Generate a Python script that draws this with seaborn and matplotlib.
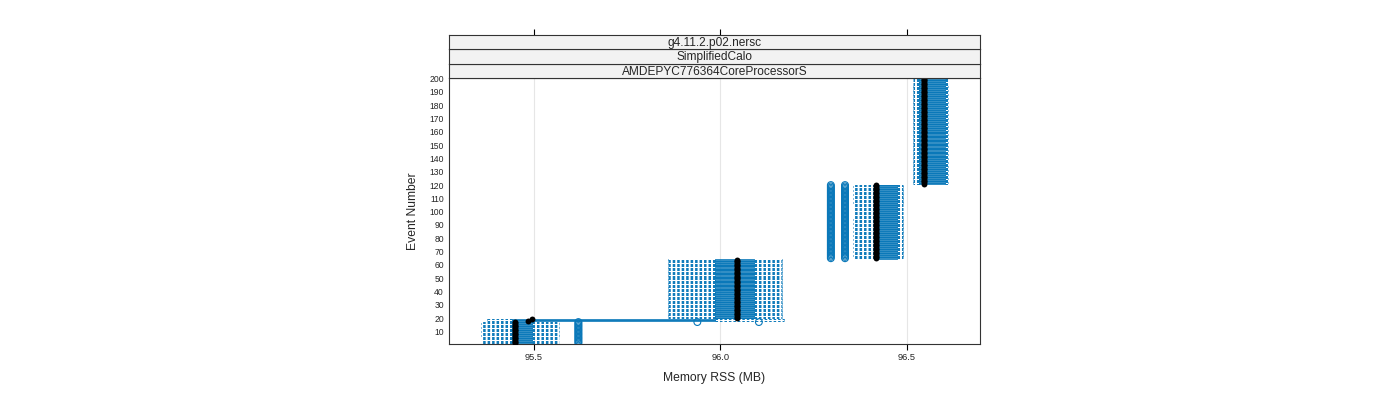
import numpy as np
import pandas as pd
import matplotlib.pyplot as plt
import seaborn as sns

# box summaries, one row per run of events
seg_first = [1, 18, 19, 20, 65, 121]
seg_last = [17, 18, 19, 64, 120, 200]
whisker_lo = [95.358, 95.375, 95.375, 95.860, 96.355, 96.516]
box_lo = [95.440, 95.440, 95.440, 95.985, 96.414, 96.532]
median_rss = [95.449, 95.485, 95.495, 96.044, 96.418, 96.545]
box_hi = [95.495, 95.985, 95.985, 96.090, 96.473, 96.602]
whisker_hi = [95.567, 96.170, 96.170, 96.165, 96.489, 96.610]

# outlying points (open circles)
out_first = [1, 65, 65, 17, 17]
out_last = [17, 120, 120, 17, 17]
out_rss = [95.619, 96.296, 96.334, 95.938, 96.103]

strip_labels = ["g4.11.2.p02.nersc", "SimplifiedCalo", "AMDEPYC776364CoreProcessorS"]
x_ticks = [95.5, 96.0, 96.5]
y_ticks = list(range(10, 201, 10))

blue = "#0a78b9"

# long form: the five-number summary of every event
rows = []
for i in range(len(seg_first)):
    for ev in range(seg_first[i], seg_last[i] + 1):
        for v in (whisker_lo[i], box_lo[i], median_rss[i], box_hi[i], whisker_hi[i]):
            rows.append((ev, v))
df = pd.DataFrame(rows, columns=["event", "rss"])
med = df.groupby("event")["rss"].median().reset_index()

out_rows = []
for i in range(len(out_first)):
    for ev in range(out_first[i], out_last[i] + 1):
        out_rows.append((ev, out_rss[i]))
outs = pd.DataFrame(out_rows, columns=["event", "rss"])

sns.set_theme(style="white")
plt.rcParams['font.family'] = ['Liberation Sans', 'DejaVu Sans']

W, H = 1400, 400
fig = plt.figure(figsize=(14, 4), dpi=100)
left, right, top, bottom = 449, 980, 78, 344
ax = fig.add_axes([left / W, 1 - bottom / H, (right - left) / W, (bottom - top) / H])

ax.xaxis.grid(True, color="#e6e6e6", lw=0.8)
ax.set_axisbelow(True)

dash = (0, (2.6, 2.0))
sns.boxplot(data=df, x="rss", y="event", orient="y", native_scale=True,
            whis=(0, 100), showfliers=False, width=0.45, fill=False,
            color=blue, linewidth=0.6,
            whiskerprops=dict(linestyle=dash, linewidth=0.7),
            capprops=dict(linestyle=dash, linewidth=0.7),
            medianprops=dict(visible=False), ax=ax)

sns.scatterplot(data=outs, x="rss", y="event", marker="o", s=24,
                facecolor="none", edgecolor=blue, linewidth=0.8, ax=ax, zorder=3)
sns.scatterplot(data=med, x="rss", y="event", color="black", s=18,
                linewidth=0, ax=ax, zorder=4)

ax.set_xlim(95.272, 96.696)
ax.set_ylim(0.5, 200.5)
ax.set_xticks(x_ticks)
ax.set_xticklabels(["95.5", "96.0", "96.5"])
ax.set_yticks(y_ticks)
ax.set_yticklabels([str(t) for t in y_ticks])
ax.tick_params(axis="x", bottom=True, length=4.3, width=0.8, color="black",
               labelsize=6.7, pad=2.5)
ax.tick_params(axis="y", left=False, length=0, labelsize=6.2, pad=3.6)
for s in ax.spines.values():
    s.set_color("#333333")
    s.set_linewidth(0.8)

ax.set_xlabel("Memory RSS (MB)", fontsize=8.7)
ax.xaxis.label.set_va("center")
ax.xaxis.set_label_coords(0.5, (bottom - 378) / (bottom - top))
ax.set_ylabel("Event Number", fontsize=8.7)
ax.yaxis.label.set_va("center")
ax.yaxis.set_label_coords((413 - left) / (right - left), 0.5)

# strips on top of the panel
sh = 14.33
for k, lab in enumerate(reversed(strip_labels)):
    y0 = top - (k + 1) * sh
    sax = fig.add_axes([left / W, 1 - (y0 + sh) / H, (right - left) / W, sh / H])
    sax.set_facecolor("#f2f2f2")
    sax.set_xlim(ax.get_xlim())
    sax.set_yticks([])
    for s in sax.spines.values():
        s.set_color("#333333")
        s.set_linewidth(0.8)
    sax.text(0.5, 0.45, lab, transform=sax.transAxes, ha="center", va="center",
             fontsize=8.6)
    if k == len(strip_labels) - 1:
        sax.set_xticks(x_ticks)
        sax.tick_params(axis="x", top=True, bottom=False, labeltop=False,
                        labelbottom=False, length=4.3, width=0.8, color="black")
    else:
        sax.set_xticks([])

fig.savefig("out.png", dpi=100)
